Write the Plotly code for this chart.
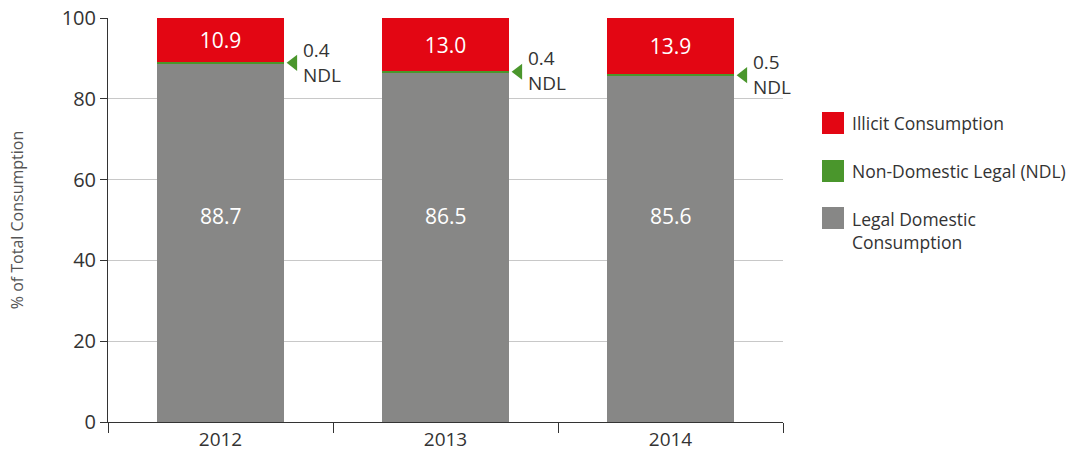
import plotly.graph_objects as go

years = ["2012", "2013", "2014"]
legal_domestic = [88.7, 86.5, 85.6]
ndl = [0.4, 0.4, 0.5]
illicit = [10.9, 13.0, 13.9]
y_ticks = [0, 20, 40, 60, 80, 100]

RED = "#E30613"
GREEN = "#4A962C"
GRAY = "#878786"
TXT = "#333333"
FONT = "Open Sans"

fig = go.Figure()
common = dict(width=0.565, marker_line_width=0, hoverinfo="y")
fig.add_bar(x=years, y=legal_domestic, marker_color=GRAY, name="Legal Domestic Consumption", **common)
fig.add_bar(x=years, y=ndl, marker_color=GREEN, name="Non-Domestic Legal (NDL)", **common)
fig.add_bar(x=years, y=illicit, marker_color=RED, name="Illicit Consumption",
            text=[f"{v:.1f}" for v in illicit], textposition="inside", insidetextanchor="middle",
            textfont=dict(color="white", size=21, family=FONT), textangle=0, **common)

# NDL pointer triangles on an overlaid numeric axis
tri_y = [l + n / 2 for l, n in zip(legal_domestic, ndl)]
fig.add_scatter(x=[0.325, 1.325, 2.325], y=tri_y, xaxis="x2", mode="markers",
                marker=dict(symbol="triangle-left", size=14, color=GREEN, line=dict(width=0)),
                hoverinfo="skip")

annotations = []
for i, (ld, n) in enumerate(zip(legal_domestic, ndl)):
    annotations.append(dict(x=i, y=51, text=f"{ld:.1f}", showarrow=False,
                            font=dict(color="white", size=21, family=FONT)))
    annotations.append(dict(x=i, y=ld + n, text=f"{n:.1f}<br>NDL", showarrow=False,
                            xanchor="left", yanchor="middle", xshift=80, align="left",
                            font=dict(color=TXT, size=19, family=FONT)))

# manual legend
legend_items = [("Illicit Consumption", RED, 123), ("Non-Domestic Legal (NDL)", GREEN, 171),
                ("Legal Domestic<br>Consumption", GRAY, 218)]
shapes = []
for label, col, yc in legend_items:
    multi = "<br>" in label
    shapes.append(dict(type="rect", xref="paper", yref="paper",
                       x0=(822 - 108) / 675, x1=(844 - 108) / 675,
                       y0=(422 - (yc + 11)) / 404, y1=(422 - (yc - 11)) / 404,
                       fillcolor=col, line=dict(width=0)))
    annotations.append(dict(xref="paper", yref="paper", x=(850 - 108) / 675,
                            y=(422 - yc) / 404, text=label, showarrow=False,
                            xanchor="left", yanchor="top" if multi else "middle",
                            yshift=13 if multi else 0, align="left",
                            font=dict(color=TXT, size=17.5, family=FONT)))

fig.update_layout(
    barmode="stack", width=1068, height=455,
    margin=dict(l=108, r=285, t=18, b=33),
    paper_bgcolor="white", plot_bgcolor="white",
    showlegend=False,
    font=dict(family=FONT, color=TXT),
    annotations=annotations, shapes=shapes,
    xaxis=dict(type="category", tickson="boundaries", ticks="outside", ticklen=10,
               tickcolor="#333", showline=True, linecolor="#333", linewidth=1,
               tickfont=dict(size=19, color=TXT), range=[-0.5, 2.5], showgrid=False,
               automargin=False),
    xaxis2=dict(overlaying="x", range=[-0.5, 2.5], visible=False),
    yaxis=dict(range=[0, 100], tickvals=y_ticks, ticks="outside", ticklen=7, tickcolor="#333",
               showline=True, linecolor="#333", linewidth=1, gridcolor="#c8c8c8", gridwidth=1,
               tickfont=dict(size=20, color=TXT), zeroline=False, automargin=False,
               title=dict(text="% of Total Consumption", font=dict(size=16, color="#555"), standoff=34)),
)

fig.write_html("out.html", config={"displayModeBar": False},
               post_script="document.body.style.margin='0';document.body.style.overflow='hidden';")
